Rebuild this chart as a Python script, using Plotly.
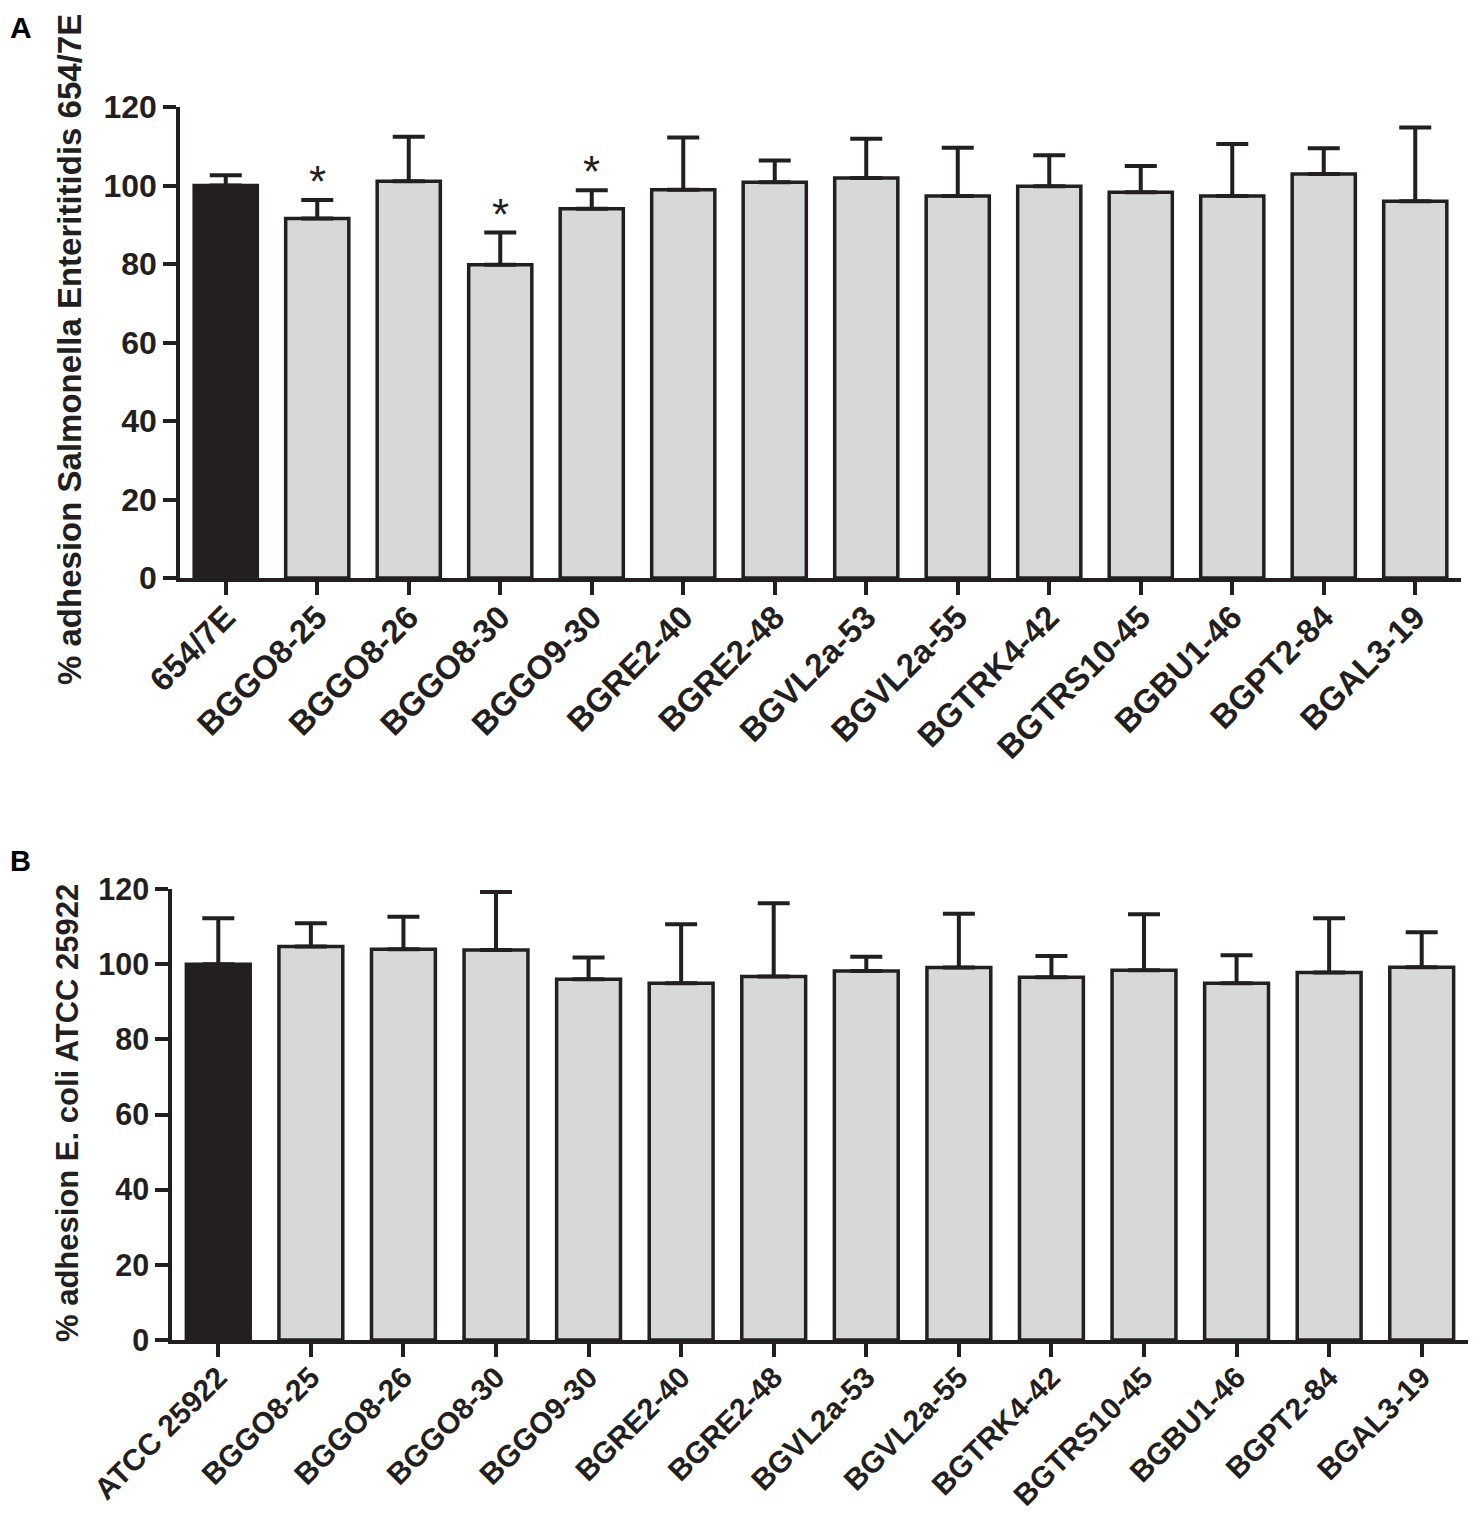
import plotly.graph_objects as go

# ---------------- data ----------------
cats_A = ["654/7E", "BGGO8-25", "BGGO8-26", "BGGO8-30", "BGGO9-30", "BGRE2-40", "BGRE2-48",
          "BGVL2a-53", "BGVL2a-55", "BGTRK4-42", "BGTRS10-45", "BGBU1-46", "BGPT2-84", "BGAL3-19"]
vals_A = [100.0, 91.6, 101.1, 79.8, 94.1, 98.9, 100.8, 101.9, 97.3, 99.8, 98.3, 97.3, 102.9, 96.0]
err_A = [2.6, 4.7, 11.3, 8.2, 4.7, 13.3, 5.6, 10.0, 12.3, 7.9, 6.7, 13.3, 6.6, 18.8]
sig_A = [False, True, False, True, True, False, False, False, False, False, False, False, False, False]

cats_B = ["ATCC 25922", "BGGO8-25", "BGGO8-26", "BGGO8-30", "BGGO9-30", "BGRE2-40", "BGRE2-48",
          "BGVL2a-53", "BGVL2a-55", "BGTRK4-42", "BGTRS10-45", "BGBU1-46", "BGPT2-84", "BGAL3-19"]
vals_B = [100.0, 104.7, 104.0, 103.8, 96.0, 94.9, 96.7, 98.2, 99.1, 96.5, 98.4, 94.9, 97.8, 99.2]
err_B = [12.2, 6.2, 8.6, 15.4, 5.8, 15.7, 19.5, 3.8, 14.3, 5.7, 14.9, 7.5, 14.4, 9.3]

ytitle_A = "% adhesion Salmonella Enterititidis 654/7E"
ytitle_B = "% adhesion E. coli ATCC 25922"
yticks = [0, 20, 40, 60, 80, 100, 120]

# ---------------- style ----------------
PAGE_W, PAGE_H = 1480, 1523
OFF = 8  # default body margin of the page
W, H = PAGE_W - 2 * OFF, PAGE_H - 2 * OFF
INK = "#231f20"
GREY = "#d7d8da"
FONT = "Liberation Sans, Arial, sans-serif"


def px_x(p):
    """page pixel -> paper x"""
    return (p - OFF) / W


def px_y(p):
    """page pixel (from top) -> paper y"""
    return 1 - (p - OFF) / H


fig = go.Figure()


def add_panel(cats, vals, errs, xa, ya, capw):
    colors = [INK] + [GREY] * (len(cats) - 1)
    fig.add_trace(go.Bar(
        x=cats, y=vals, width=0.69,
        marker=dict(color=colors, line=dict(color=INK, width=3.5)),
        error_y=dict(type="data", symmetric=False, array=errs, arrayminus=[0] * len(errs),
                     color=INK, thickness=4, width=capw),
        xaxis=xa, yaxis=ya, showlegend=False, hoverinfo="skip",
    ))


add_panel(cats_A, vals_A, err_A, "x", "y", 16)
add_panel(cats_B, vals_B, err_B, "x2", "y2", 16)

axis_common = dict(showline=True, linecolor=INK, linewidth=3.5, ticks="outside",
                   tickcolor=INK, tickwidth=3.5, showgrid=False, zeroline=False,
                   automargin=False)

fig.update_layout(
    width=W, height=H,
    margin=dict(l=0, r=0, t=0, b=0, autoexpand=False),
    paper_bgcolor="white", plot_bgcolor="white",
    xaxis=dict(domain=[px_x(180), px_x(1461)], anchor="y", range=[-0.5, 13.5],
               tickangle=-45, ticklen=13, ticklabelstandoff=-10,
               tickfont=dict(family=FONT, size=33, color=INK, weight="bold"), **axis_common),
    yaxis=dict(domain=[px_y(578), px_y(107)], anchor="x", range=[0, 120],
               tickvals=yticks, ticklen=13,
               tickfont=dict(family=FONT, size=32, color=INK, weight="bold"), **axis_common),
    xaxis2=dict(domain=[px_x(172), px_x(1468)], anchor="y2", range=[-0.5, 13.5],
                tickangle=-45, ticklen=13, ticklabelstandoff=-9,
                tickfont=dict(family=FONT, size=30, color=INK, weight="bold"), **axis_common),
    yaxis2=dict(domain=[px_y(1340), px_y(889)], anchor="x2", range=[0, 120],
                tickvals=yticks, ticklen=13,
                tickfont=dict(family=FONT, size=30.5, color=INK, weight="bold"), **axis_common),
)

annotations = []
# axis titles
annotations.append(dict(text=ytitle_A, xref="paper", yref="paper", x=px_x(69), y=px_y(350),
                        xanchor="center", yanchor="middle", textangle=-90, showarrow=False,
                        font=dict(family=FONT, size=33, color=INK, weight="bold")))
annotations.append(dict(text=ytitle_B, xref="paper", yref="paper", x=px_x(67), y=px_y(1113),
                        xanchor="center", yanchor="middle", textangle=-90, showarrow=False,
                        font=dict(family=FONT, size=31, color=INK, weight="bold")))
# panel letters
annotations.append(dict(text="A", xref="paper", yref="paper", x=px_x(8), y=px_y(8.5),
                        xanchor="left", yanchor="top", showarrow=False,
                        font=dict(family=FONT, size=30, color="black", weight="bold")))
annotations.append(dict(text="B", xref="paper", yref="paper", x=px_x(8), y=px_y(843),
                        xanchor="left", yanchor="top", showarrow=False,
                        font=dict(family=FONT, size=29, color="black", weight="bold")))
# significance stars
for c, v, e, s in zip(cats_A, vals_A, err_A, sig_A):
    if s:
        annotations.append(dict(text="*", xref="x", yref="y", x=c, y=v + e,
                                xanchor="center", yanchor="bottom", showarrow=False, yshift=-8,
                                font=dict(family=FONT, size=44, color=INK)))

fig.update_layout(annotations=annotations)

fig.write_html("out.html")
